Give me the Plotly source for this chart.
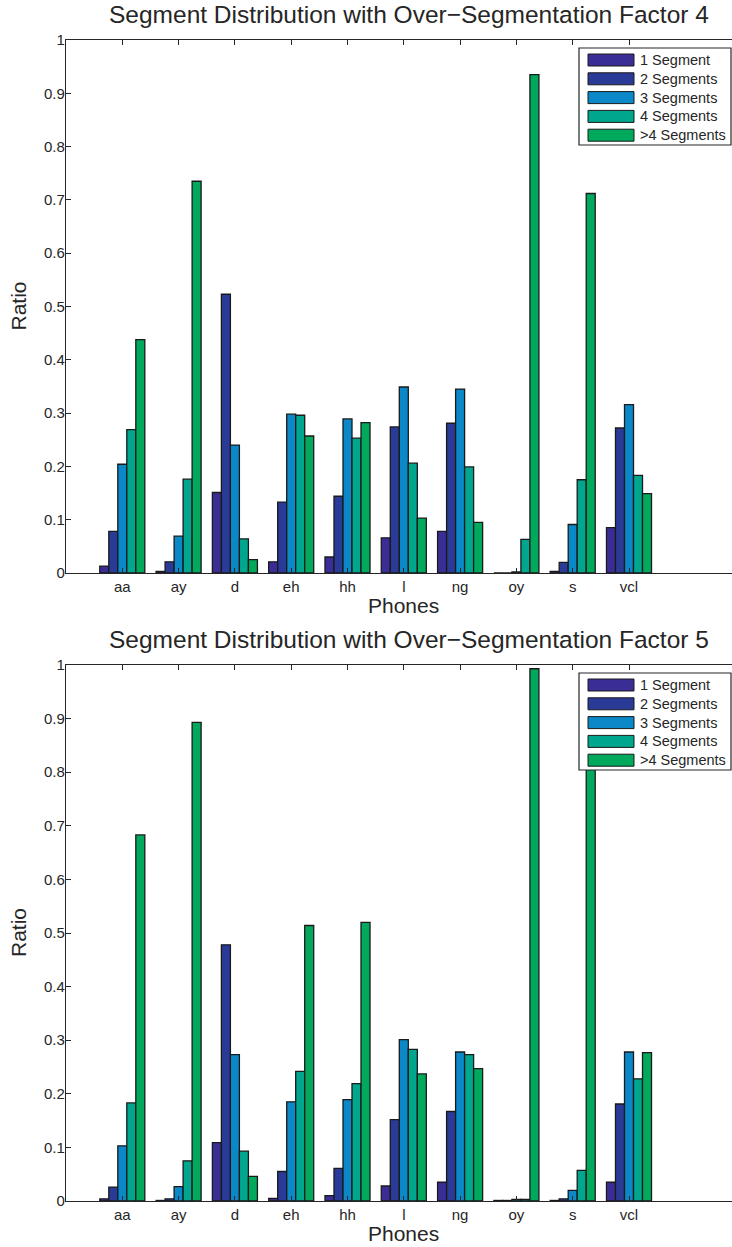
import plotly.graph_objects as go

# Phone categories and tick settings
phones = ["aa", "ay", "d", "eh", "hh", "l", "ng", "oy", "s", "vcl"]
series_names = ["1 Segment", "2 Segments", "3 Segments", "4 Segments", ">4 Segments"]
y_ticks = [0, 0.1, 0.2, 0.3, 0.4, 0.5, 0.6, 0.7, 0.8, 0.9, 1]
y_tick_text = ["0", "0.1", "0.2", "0.3", "0.4", "0.5", "0.6", "0.7", "0.8", "0.9", "1"]

# Over-segmentation factor 4: ratio per phone for each segment count
f4_seg1 = [0.013, 0.003, 0.151, 0.021, 0.030, 0.066, 0.078, 0.000, 0.003, 0.085]
f4_seg2 = [0.078, 0.021, 0.523, 0.133, 0.144, 0.274, 0.281, 0.000, 0.020, 0.272]
f4_seg3 = [0.204, 0.069, 0.240, 0.298, 0.289, 0.349, 0.345, 0.002, 0.091, 0.316]
f4_seg4 = [0.269, 0.176, 0.064, 0.296, 0.253, 0.206, 0.199, 0.063, 0.175, 0.183]
f4_seg5 = [0.438, 0.735, 0.025, 0.257, 0.282, 0.103, 0.095, 0.935, 0.712, 0.149]

# Over-segmentation factor 5
f5_seg1 = [0.004, 0.001, 0.109, 0.005, 0.010, 0.028, 0.035, 0.001, 0.001, 0.035]
f5_seg2 = [0.026, 0.004, 0.478, 0.055, 0.061, 0.152, 0.167, 0.001, 0.004, 0.181]
f5_seg3 = [0.103, 0.027, 0.273, 0.185, 0.189, 0.301, 0.278, 0.003, 0.020, 0.278]
f5_seg4 = [0.183, 0.075, 0.093, 0.242, 0.219, 0.283, 0.273, 0.003, 0.057, 0.228]
f5_seg5 = [0.683, 0.893, 0.046, 0.514, 0.520, 0.237, 0.247, 0.993, 0.918, 0.277]

colors = ["#3a2e96", "#2a3b97", "#0a88c8", "#00a78e", "#00a95b"]

W, H = 732, 1247
FONT = "Liberation Sans, Arial, Helvetica, sans-serif"
INK = "#262626"

# pixel -> paper helpers (margins are zero, so paper == full figure)
def px(x):
    return x / W

def py(y):
    return 1 - y / H

ax_left, ax_right = 66, 732
group_step = 56.3
x_max = (ax_right - ax_left) / group_step  # axis keeps running past the page edge

panels = [
    {"top": 40, "bottom": 573, "data": [f4_seg1, f4_seg2, f4_seg3, f4_seg4, f4_seg5],
     "title": "Segment Distribution with Over\u2212Segmentation Factor 4"},
    {"top": 665, "bottom": 1201, "data": [f5_seg1, f5_seg2, f5_seg3, f5_seg4, f5_seg5],
     "title": "Segment Distribution with Over\u2212Segmentation Factor 5"},
]

fig = go.Figure()
x_pos = list(range(1, len(phones) + 1))

shapes = []
annotations = []

for i, p in enumerate(panels):
    suffix = "" if i == 0 else str(i + 1)
    for name, vals, col in zip(series_names, p["data"], colors):
        fig.add_trace(go.Bar(
            x=x_pos, y=vals, name=name, marker=dict(color=col, line=dict(color="#1a1a1a", width=1.3)),
            xaxis="x" + suffix, yaxis="y" + suffix, showlegend=False,
        ))

    axis_common = dict(
        showline=True, linecolor=INK, linewidth=1.3, mirror="ticks", ticks="inside",
        ticklen=5, tickwidth=1, tickcolor=INK, showgrid=False, zeroline=False,
        tickfont=dict(family=FONT, size=15, color=INK), automargin=False,
    )
    fig.layout["xaxis" + suffix] = dict(
        axis_common, domain=[px(ax_left), 1], range=[0, x_max],
        tickvals=x_pos, ticktext=phones, anchor="y" + suffix,
    )
    fig.layout["yaxis" + suffix] = dict(
        axis_common, domain=[py(p["bottom"]), py(p["top"])], range=[0, 1],
        tickvals=y_ticks, ticktext=y_tick_text, anchor="x" + suffix, mirror=False,
        ticklabelstandoff=-3,
    )

    # title and axis labels
    annotations.append(dict(text=p["title"], x=px(409), y=py(p["top"] - 26), xref="paper", yref="paper",
                            showarrow=False, font=dict(family=FONT, size=24.5, color=INK),
                            xanchor="center", yanchor="middle"))
    annotations.append(dict(text="Phones", x=px(404), y=py(p["bottom"] + 32), xref="paper", yref="paper",
                            showarrow=False, font=dict(family=FONT, size=21, color=INK),
                            xanchor="center", yanchor="middle"))
    annotations.append(dict(text="Ratio", x=px(18), y=py((p["top"] + p["bottom"]) / 2), xref="paper",
                            yref="paper", showarrow=False, textangle=-90,
                            font=dict(family=FONT, size=21, color=INK), xanchor="center", yanchor="middle"))

    # boxed legend in the upper right corner
    box_top = p["top"] + 8
    box_bottom = box_top + 97
    shapes.append(dict(type="rect", xref="paper", yref="paper", x0=px(579), x1=px(731),
                       y0=py(box_bottom), y1=py(box_top), fillcolor="white",
                       line=dict(color=INK, width=1.2), layer="above"))
    for k, (name, col) in enumerate(zip(series_names, colors)):
        cy = box_top + 12 + k * 18.8
        shapes.append(dict(type="rect", xref="paper", yref="paper", x0=px(588), x1=px(634),
                           y0=py(cy + 6), y1=py(cy - 6), fillcolor=col,
                           line=dict(color="#1a1a1a", width=1), layer="above"))
        annotations.append(dict(text=name, x=px(638), y=py(cy), xref="paper", yref="paper",
                                showarrow=False, font=dict(family=FONT, size=14.5, color=INK),
                                xanchor="left", yanchor="middle"))

fig.update_layout(
    width=W, height=H, margin=dict(l=0, r=0, t=0, b=0),
    paper_bgcolor="white", plot_bgcolor="white",
    barmode="group", bargap=0.2, bargroupgap=0,
    shapes=shapes, annotations=annotations,
)

fig.write_html("out.html")
